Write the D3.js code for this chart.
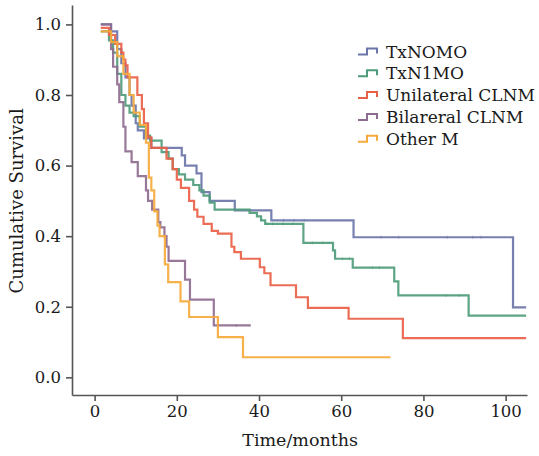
<!DOCTYPE html>
<html>
<head>
<meta charset="utf-8">
<script src="https://cdn.jsdelivr.net/npm/d3@7"></script>
<style>
  body { margin: 0; background: #fff; }
  svg text { font-family: "DejaVu Serif", serif; fill: #1a1a1a; }
</style>
</head>
<body>
<svg id="chart" width="539" height="456"></svg>
<script>
// [time (months), cumulative survival] at each step
const txn0m0 = [[1.5,1.0],[4,0.98],[5.5,0.93],[6.5,0.89],[7.5,0.85],[8.5,0.80],[9,0.77],[10,0.72],[10.5,0.70],[12,0.677],[13.8,0.65],[21.2,0.629],[22,0.60],[24.8,0.578],[26,0.525],[28,0.50],[34.1,0.473],[43,0.445],[63,0.397],[101.8,0.198]]
const txn1m0 = [[1.5,0.98],[3.5,0.955],[4.5,0.92],[5.5,0.86],[6.5,0.80],[7.5,0.77],[8.5,0.75],[9.5,0.74],[11,0.71],[12.5,0.685],[13.5,0.671],[16.3,0.638],[18,0.62],[19,0.59],[20.5,0.575],[22,0.56],[24,0.545],[25.5,0.53],[26.5,0.515],[28,0.495],[29.2,0.475],[37.7,0.466],[39.5,0.456],[40.5,0.445],[41.5,0.435],[50.8,0.381],[58,0.36],[58.5,0.336],[62.8,0.311],[72.9,0.272],[73.9,0.232],[91,0.175]]
const unilateral = [[1.5,0.99],[3.5,0.97],[5,0.945],[6.5,0.92],[7,0.90],[7.5,0.884],[8,0.85],[10.4,0.80],[11.5,0.76],[12,0.72],[13,0.68],[13.8,0.65],[17.5,0.62],[19,0.59],[20,0.56],[21,0.537],[23,0.50],[24.2,0.475],[25,0.455],[26.5,0.435],[28.5,0.415],[30,0.407],[33.3,0.37],[34,0.355],[35.6,0.336],[40.2,0.312],[41.3,0.295],[42.8,0.261],[49,0.227],[51.9,0.197],[61.8,0.166],[75,0.111]]
const bilateral = [[1.5,1.0],[4,0.93],[4.5,0.88],[5.5,0.83],[6,0.78],[7,0.71],[7.5,0.64],[9,0.61],[10.5,0.57],[12.5,0.53],[13,0.50],[14,0.475],[15.5,0.44],[16,0.425],[17,0.40],[17.5,0.37],[18,0.33],[22,0.277],[23.2,0.22],[29,0.147]]
const otherM = [[1.5,0.98],[4,0.95],[5.5,0.91],[7,0.86],[8.5,0.80],[9.5,0.75],[11,0.715],[12.5,0.665],[13.2,0.566],[13.8,0.53],[14.5,0.47],[15.3,0.43],[15.8,0.40],[17.1,0.32],[17.9,0.27],[20.9,0.215],[23.0,0.171],[30.0,0.114],[36.1,0.057]]

const seriesNames = ['TxNOMO', 'TxN1MO', 'Unilateral CLNM', 'Bilareral CLNM', 'Other M']
const seriesEnds = [105, 105, 105, 38, 72]
const censored = [
  [46, 48.5, 51, 69.7, 74, 85.8, 92, 94],
  [41.9, 43.3, 45.8, 48.2, 53, 55.5, 60.3, 62, 67.6, 69.3, 85.5, 88.7],
  [],
  [34.5],
  []
]
const xTicks = [0, 20, 40, 60, 80, 100]
const yTicks = [0.0, 0.2, 0.4, 0.6, 0.8, 1.0]

const colors = ['#6b75a9', '#4f9c7a', '#ea6047', '#8e6c8f', '#f6aa3c']
const allSeries = [txn0m0, txn1m0, unilateral, bilateral, otherM]

const svg = d3.select('#chart')

const x = d3.scaleLinear().domain([-5.5, 105.2]).range([72, 527])
const y = d3.scaleLinear().domain([-0.05, 1.055]).range([395, 5])

svg.append('g')
  .attr('transform', 'translate(0,395)')
  .call(d3.axisBottom(x).tickValues(xTicks).tickSize(6).tickSizeOuter(0).tickPadding(4))
svg.append('g')
  .attr('transform', 'translate(72,0)')
  .call(d3.axisLeft(y).tickValues(yTicks).tickFormat(d3.format('.1f')).tickSize(6).tickSizeOuter(0).tickPadding(5))

svg.selectAll('.domain, .tick line')
  .attr('stroke', '#555')
  .attr('stroke-width', 1.6)
svg.selectAll('.tick text')
  .attr('font-size', 16.5)
  .attr('font-family', '"DejaVu Serif", serif')
  .attr('fill', '#1a1a1a')

svg.append('text')
  .attr('x', x(50))
  .attr('y', 446)
  .attr('text-anchor', 'middle')
  .attr('font-size', 17.5)
  .text('Time/months')

svg.append('text')
  .attr('transform', `translate(23,${y(0.5)}) rotate(-90)`)
  .attr('text-anchor', 'middle')
  .attr('font-size', 18)
  .text('Cumulative Survival')

const line = d3.line()
  .x(d => x(d[0]))
  .y(d => y(d[1]))
  .curve(d3.curveStepAfter)

function stepValue(pts, t) {
  let v = pts[0][1]
  pts.forEach(p => { if (p[0] <= t) v = p[1] })
  return v
}

allSeries.forEach((pts, i) => {
  const full = pts.concat([[seriesEnds[i], pts[pts.length - 1][1]]])
  svg.append('path')
    .datum(full)
    .attr('d', line)
    .attr('fill', 'none')
    .attr('stroke', colors[i])
    .attr('stroke-width', 2.2)
    .attr('stroke-opacity', 0.92)

  svg.selectAll(null)
    .data(censored[i])
    .enter()
    .append('line')
    .attr('x1', d => x(d))
    .attr('x2', d => x(d))
    .attr('y1', d => y(stepValue(pts, d)) - 1.5)
    .attr('y2', d => y(stepValue(pts, d)) + 1.5)
    .attr('stroke', colors[i])
    .attr('stroke-width', 0.8)
    .attr('stroke-opacity', 0.7)
})

// legend
const legend = svg.append('g')
seriesNames.forEach((name, i) => {
  const by = 57.5 + i * 21.8
  legend.append('path')
    .attr('d', `M358,${by - 3} H367 V${by - 9} H377 V${by - 4}`)
    .attr('fill', 'none')
    .attr('stroke', colors[i])
    .attr('stroke-width', 2)
  legend.append('text')
    .attr('x', 386)
    .attr('y', by)
    .attr('font-size', 17)
    .text(name)
})
</script>
</body>
</html>
